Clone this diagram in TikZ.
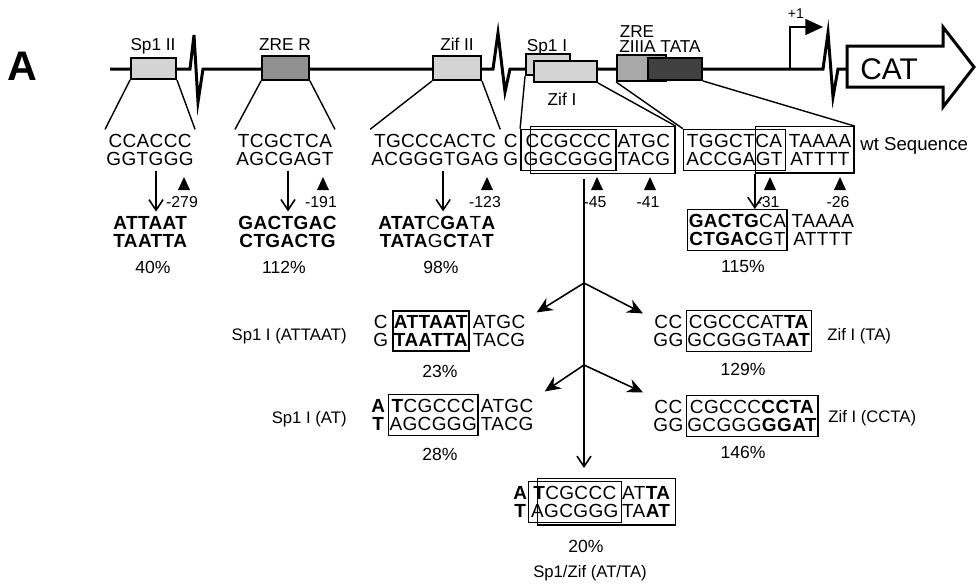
\documentclass[tikz,border=0pt]{standalone}
\usepackage{fontspec}
\setmainfont{Liberation Sans}
\newfontfamily\seqfamily[LetterSpace=2]{Liberation Sans}
\usetikzlibrary{arrows.meta, positioning, fit, calc}

\definecolor{siteLight}{gray}{0.83}
\definecolor{siteZreR}{gray}{0.57}
\definecolor{siteZre}{gray}{0.66}
\definecolor{siteTata}{gray}{0.25}

\begin{document}
\begin{tikzpicture}[
    x=0.02cm, y=-0.02cm,
    font=\fontsize{9.5}{11}\selectfont,
    dna/.style={line width=1.7pt},
    site/.style={rectangle, draw=black, line width=1.1pt, inner sep=0pt},
    sitelbl/.style={anchor=base, font=\fontsize{9.8}{10}\selectfont, inner sep=0pt},
    seq/.style={inner xsep=0.6pt, inner ysep=2.6pt, align=center, font=\seqfamily\fontsize{10.8}{10.2}\selectfont},
    seqbox/.style={seq, draw, line width=0.8pt},
    seqframe/.style={draw, line width=0.8pt, inner xsep=0.8pt, inner ysep=0pt},
    link/.style={line width=0.8pt},
    mutarrow/.style={-{Straight Barb[length=6pt, width=8pt]}, line width=0.9pt},
    branch/.style={-{Stealth[length=9pt, width=8pt]}, line width=0.9pt},
    posn/.style={anchor=base, font=\fontsize{9}{10}\selectfont, inner sep=0pt},
    pct/.style={anchor=base, font=\fontsize{10}{11}\selectfont, inner sep=0pt},
    mutname/.style={font=\fontsize{9.5}{11}\selectfont, inner sep=0pt}
]
\useasboundingbox (0,0) rectangle (977,586);
% ---------------- PROMOTER ----------------
\node[anchor=base, font=\fontsize{23.5}{24}\selectfont\bfseries, inner sep=0pt] (panel) at (22,80) {A};
\draw[dna] (110,69) -- (190,69) -- (194,35) -- (198,102) -- (203,69) -- (493,69) -- (498,33) -- (505,92) -- (510,69)
  -- (823,69) -- (828,33) -- (833,97) -- (838,69) -- (847,69);
\draw[line width=1.1pt, -{Triangle[length=10pt, width=9pt]}] (790,69) -- (790,27) -- (823,27);
\node[sitelbl, font=\fontsize{8}{8}\selectfont] (tss) at (796,18) {+1};
\draw[line width=1.7pt, fill=white] (847,46) -- (943,46) -- (943,27) -- (974,67) -- (943,107) -- (943,87) -- (847,87) -- cycle;
\node[anchor=base, font=\fontsize{17}{18}\selectfont, inner sep=0pt] (cat) at (889,79) {CAT};
% binding sites
\node[site, fill=siteLight, minimum width=0.9cm, minimum height=0.42cm] (sp1II) at (153.5,68.5) {};
\node[site, fill=siteZreR, minimum width=0.94cm, minimum height=0.48cm] (zreR) at (285.5,68) {};
\node[site, fill=siteLight, minimum width=0.96cm, minimum height=0.48cm] (zifII) at (457,68) {};
\node[site, fill=siteLight, minimum width=0.88cm, minimum height=0.42cm] (sp1I) at (548,64.5) {};
\node[site, fill=siteLight, minimum width=1.26cm, minimum height=0.42cm] (zifI) at (565.5,71.5) {};
\node[site, fill=siteZre, minimum width=0.98cm, minimum height=0.52cm] (zreIII) at (641.5,68) {};
\node[site, fill=siteTata, minimum width=1.08cm, minimum height=0.44cm] (tata) at (675,69) {};
\node[sitelbl] (lSp1II) at (153,50) {Sp1 II};
\node[sitelbl] (lZreR) at (285,50) {ZRE R};
\node[sitelbl] (lZifII) at (457,50) {Zif II};
\node[sitelbl] (lSp1I) at (547,51) {Sp1 I};
\node[sitelbl] (lZifI) at (562,105) {Zif I};
\node[sitelbl] (lZre) at (637,37) {ZRE};
\node[sitelbl] (lZiiia) at (660,52) {ZIIIA TATA};
% ---------------- WT SEQUENCES ----------------
\node[seq, anchor=west] (wSp1II) at (105,150) {CCACCC\\GGTGGG};
\node[seq, anchor=west] (wZreR) at (235,150) {TCGCTCA\\AGCGAGT};
\node[seq, anchor=west] (wZifII) at (370,150) {TGCCCACTC\\ACGGGTGAG};
\node[seq, anchor=west] (wA) at (502,150) {C\\G};
\node[seq, right=1.5pt of wA] (wB) {CCGCCC\\GGCGGG};
\node[seq, right=1pt of wB] (wD) {ATGC\\TACG};
\coordinate (wZifL) at ($(wB.north west)+(12,0)$);
\node[seqframe, fit=(wB)] (wSp1I) {};
\node[seqframe, fit=(wZifL)(wD.south east), inner xsep=2pt, inner ysep=1.5pt] (wZifI) {};
\node[seq, anchor=west] (wE) at (685,150) {TGGCTCA\\ACCGAGT};
\node[seq, right=2pt of wE] (wG) {TAAAA\\ATTTT};
\coordinate (wTataL) at ($(wE.north east)+(-27,0)$);
\node[seqframe, fit=(wE)] (wZreIII) {};
\node[seqframe, fit=(wTataL)(wG.south east), inner ysep=1.5pt] (wTata) {};
\node[mutname, anchor=base west, font=\fontsize{10.6}{11}\selectfont] (wtlbl) at (860,150) {wt Sequence};
% zoom lines
\draw[link] (sp1II.south west) -- (wSp1II.north west);
\draw[link] (sp1II.south east) -- (wSp1II.north east);
\draw[link] (zreR.south west) -- (wZreR.north west);
\draw[link] (zreR.south east) -- (wZreR.north east);
\draw[link] (zifII.south west) -- (wZifII.north west);
\draw[link] (zifII.south east) -- (wZifII.north east);
\draw[link] (sp1I.south west) -- (wSp1I.north west);
\draw[link] (zifI.south east) -- (wZifI.north east);
\draw[link] (zreIII.south west) -- (wZreIII.north west);
\draw[link] (tata.south east) -- (wTata.north east);
% positions
\foreach \x/\pos [count=\i] in {184/-279, 323/-191, 487/-123, 597/-45, 650/-41, 770/-31, 840/-26} {
  \fill (\x,177) -- ++(-6,13) -- ++(12,0) -- cycle;
  \node[posn] (pos\i) at (\x-2,207) {\pos};
}
% ---------------- MUTANTS ----------------
\node[seq, anchor=west] (mSp1II) at (112,232) {\textbf{ATTAAT}\\\textbf{TAATTA}};
\node[seq, anchor=west] (mZreR) at (237,232) {\textbf{GACTGAC}\\\textbf{CTGACTG}};
\node[seq, anchor=west] (mZifII) at (377,232) {\textbf{ATAT}C\textbf{GA}T\textbf{A}\\\textbf{TATA}G\textbf{CT}A\textbf{T}};
\node[seqbox, anchor=west] (mZre) at (687,230) {\textbf{GACTG}CA\\\textbf{CTGAC}GT};
\node[seq, right=1.5pt of mZre] (mTata) {TAAAA\\ATTTT};
\foreach \w/\m/\dx in {wSp1II/mSp1II/6, wZreR/mZreR/3, wZifII/mZifII/8}
  \draw[mutarrow] ($(\w.south)+(\dx,0)$) -- ($(\w.south |- \m.north)+(\dx,0)$);
\draw[mutarrow] (wTata.south west) -- (wTata.south west |- mZre.north);
\node[pct] (p40) at (153,273) {40\%};
\node[pct] (p112) at (284,273) {112\%};
\node[pct] (p98) at (441,273) {98\%};
\node[pct] (p115) at (743,272) {115\%};
% Sp1 I / Zif I series
\node[seq, anchor=west] (aA) at (372,331) {C\\G};
\node[seqbox, right=1.5pt of aA] (aB) {\textbf{ATTAAT}\\\textbf{TAATTA}};
\node[seq, right=1pt of aB] (aC) {ATGC\\TACG};
\node[mutname, anchor=base east] (lblA) at (347,340) {Sp1 I (ATTAAT)};
\node[pct] (p23) at (440,377) {23\%};
\node[seq, anchor=west] (bA) at (370,415) {\textbf{A}\\\textbf{T}};
\node[seqbox, right=0.5pt of bA] (bB) {\textbf{T}CGCCC\\AGCGGG};
\node[seq, right=0.5pt of bB] (bC) {ATGC\\TACG};
\node[mutname, anchor=base east] (lblB) at (347,423) {Sp1 I (AT)};
\node[pct] (p28) at (440,460) {28\%};
\node[seq, anchor=west] (cA) at (652,331) {CC\\GG};
\node[seqbox, right=0.5pt of cA] (cB) {CGCCCAT\textbf{TA}\\GCGGGTA\textbf{AT}};
\node[mutname, anchor=base west] (lblC) at (827,340) {Zif I (TA)};
\node[pct] (p129) at (743,375) {129\%};
\node[seq, anchor=west] (dA) at (652,416) {CC\\GG};
\node[seqbox, right=0.5pt of dA] (dB) {CGCCC\textbf{CCTA}\\GCGGG\textbf{GGAT}};
\node[mutname, anchor=base west] (lblD) at (828,422) {Zif I (CCTA)};
\node[pct] (p146) at (743,458) {146\%};
% double mutant
\node[seq, anchor=west] (fA) at (512,502) {\textbf{A}\\\textbf{T}};
\node[seq, right=0.5pt of fA] (fB) {\textbf{T}CGCCC\\AGCGGG};
\node[seq, right=0.5pt of fB] (fD) {AT\textbf{TA}\\TA\textbf{AT}};
\coordinate (fZifL) at ($(fB.north west)+(11,0)$);
\node[seqframe, fit=(fB)] (fSp1I) {};
\node[seqframe, fit=(fZifL)(fD.south east), inner xsep=2pt, inner ysep=1.5pt] (fZifI) {};
\node[pct] (p20) at (586,552) {20\%};
\node[mutname, anchor=base] (lblF) at (590,577) {Sp1/Zif (AT/TA)};
% ---------------- MUTANT TREE ----------------
\coordinate (vx) at (584,0);
\coordinate (forkA) at (584,283);
\coordinate (forkB) at (584,365);
\draw[mutarrow] ($(vx |- wZifI.south)+(0,5)$) -- ($(vx |- fZifI.north)+(0,-10)$);
\draw[branch] (forkA) -- ($(aC.north east)+(10,2)$);
\draw[branch] (forkA) -- ($(cA.north west)+(-9,3)$);
\draw[branch] (forkB) -- ($(bC.north east)+(10,-3)$);
\draw[branch] (forkB) -- ($(dA.north west)+(-9,-3)$);
\end{tikzpicture}
\end{document}
